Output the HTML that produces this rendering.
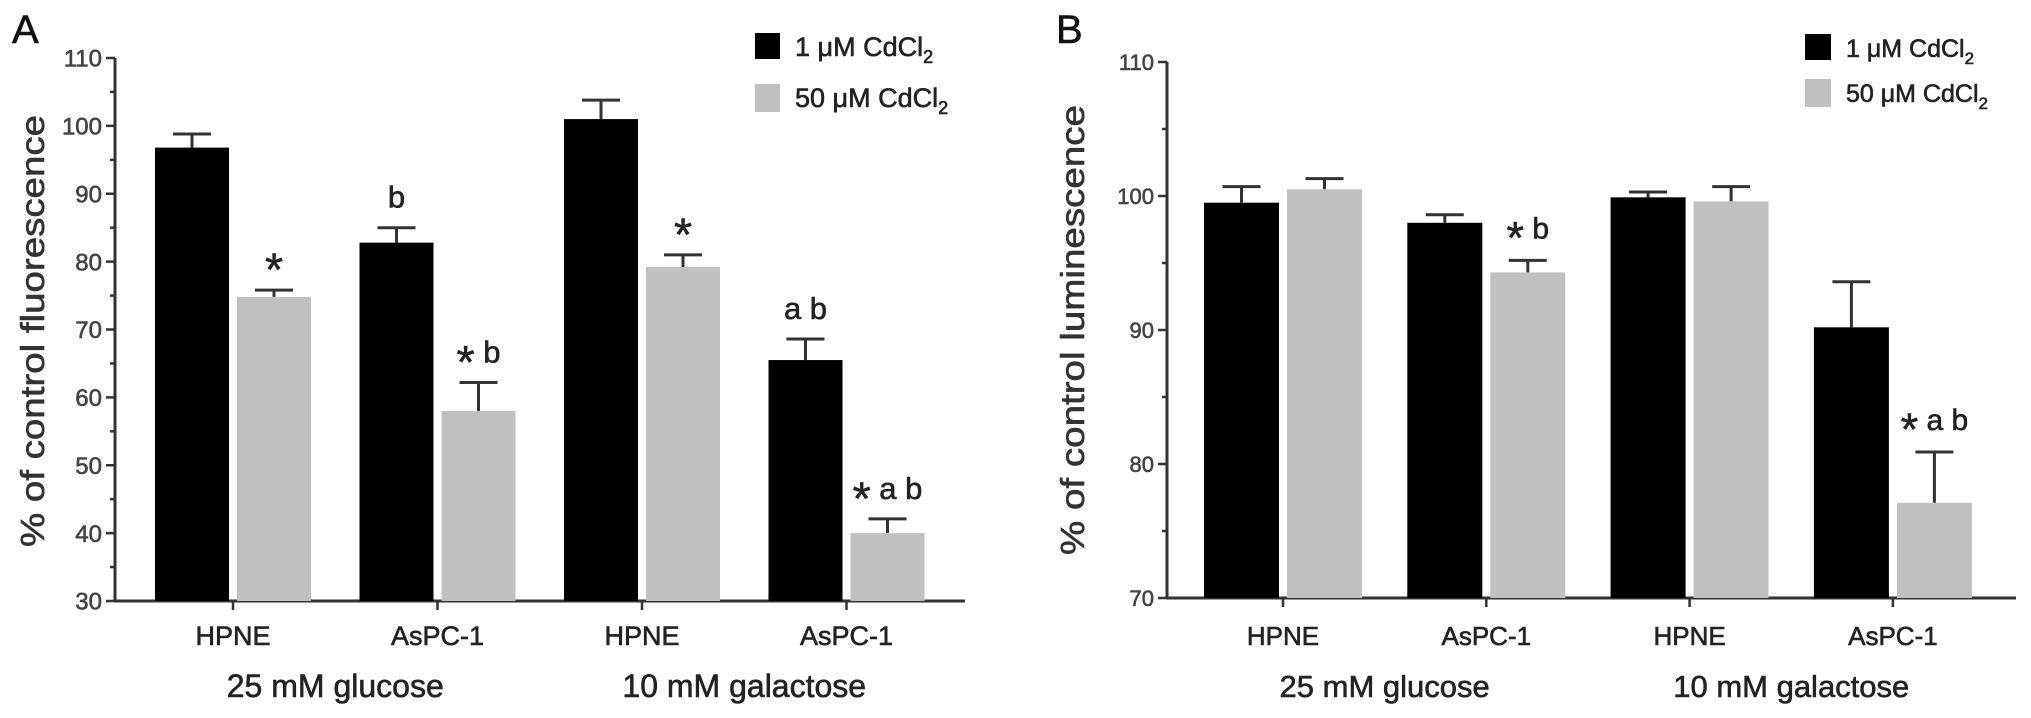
<!DOCTYPE html>
<html><head><meta charset="utf-8"><style>
html,body{margin:0;padding:0;background:#fff;}
svg{display:block;font-family:"Liberation Sans",Arial,sans-serif;}
svg text{stroke:currentColor;stroke-width:0.6px;}
</style></head><body>
<svg id="fig" width="2031" height="718" viewBox="0 0 2031 718">
  <text x="12" y="43" font-size="40" fill="#111" color="#111">A</text>
  <text x="1056" y="43" font-size="40" fill="#111" color="#111">B</text>
  <g id="pa"></g>
  <g id="pb"></g>
  <g>
    <rect x="755" y="33" width="25" height="26" fill="#000"/>
    <text x="795" y="56" font-size="27" fill="#222" color="#222">1 μM CdCl<tspan font-size="18" dy="7">2</tspan></text>
    <rect x="755" y="84" width="25" height="28" fill="#c0c0c0"/>
    <text x="795" y="107" font-size="27" fill="#222" color="#222">50 μM CdCl<tspan font-size="18" dy="7">2</tspan></text>
  </g>
  <g>
    <rect x="1805" y="34" width="26" height="26" fill="#000"/>
    <text x="1846" y="57" font-size="25" fill="#222" color="#222">1 μM CdCl<tspan font-size="17" dy="7">2</tspan></text>
    <rect x="1805" y="79" width="26" height="28" fill="#c0c0c0"/>
    <text x="1846" y="102" font-size="25" fill="#222" color="#222">50 μM CdCl<tspan font-size="17" dy="7">2</tspan></text>
  </g>
</svg>
<script>
// Panel A data
const categoriesA = ["HPNE","AsPC-1","HPNE","AsPC-1"];
const groupsA = ["25 mM glucose","10 mM galactose"];
const blackA = [96.8, 82.8, 101.0, 65.5];
const blackErrA = [98.8, 85.0, 103.8, 68.6];
const grayA = [74.8, 58.0, 79.2, 40.0];
const grayErrA = [75.8, 62.2, 81.0, 42.1];
const blackAnnA = ["", "b", "", "a b"];
const grayAnnA = ["*", "* b", "*", "* a b"];
const ticksA = [30,40,50,60,70,80,90,100,110];
// Panel B data
const categoriesB = ["HPNE","AsPC-1","HPNE","AsPC-1"];
const groupsB = ["25 mM glucose","10 mM galactose"];
const blackB = [99.5, 98.0, 99.9, 90.2];
const blackErrB = [100.7, 98.6, 100.3, 93.6];
const grayB = [100.5, 94.3, 99.6, 77.1];
const grayErrB = [101.3, 95.2, 100.7, 80.9];
const blackAnnB = ["", "", "", ""];
const grayAnnB = ["", "* b", "", "* a b"];
const ticksB = [70,80,90,100,110];

const NS = "http://www.w3.org/2000/svg";
function mk(parent, tag, attrs, text){
  const e = document.createElementNS(NS, tag);
  for (const k in attrs) e.setAttribute(k, attrs[k]);
  if (text !== undefined) e.textContent = text;
  parent.appendChild(e);
  return e;
}
function annot(g, cx, y, label, fs){
  if (!label) return;
  const t = mk(g, "text", {x: cx, y: y, "text-anchor": "middle", "font-size": fs, fill: "#222", color: "#222"});
  
  
  const parts = label.split("*");
  if (parts.length > 1) {
    const s = mk(t, "tspan", {"font-size": fs * 1.5, dy: fs * 0.5}, "*");
    
    
    const r = mk(t, "tspan", {dy: -fs * 0.5}, parts[1]);
    
    
  } else {
    t.textContent = label;
  }
}
function drawPanel(cfg){
  const g = document.getElementById(cfg.id);
  const y = v => cfg.y0 - (v - cfg.vmin) / (cfg.vmax - cfg.vmin) * (cfg.y0 - cfg.y1);
  const xc = i => cfg.x0 + i * cfg.step;
  const ax = mk(g, "line", {x1: cfg.ax, y1: y(cfg.vmax), x2: cfg.ax, y2: cfg.y0 + 1, stroke: "#333", "stroke-width": 3});
  
  
  cfg.ticks.forEach((v, i) => {
    const tk = mk(g, "line", {x1: cfg.ax - 9, y1: y(v), x2: cfg.ax, y2: y(v), stroke: "#333", "stroke-width": 2.5});
    
    
    const lb = mk(g, "text", {x: cfg.ax - 13, y: y(v) + cfg.tfs * 0.36, "text-anchor": "end", "font-size": cfg.tfs, fill: "#444", color: "#444"}, String(v));
    
    
    if (i < cfg.ticks.length - 1) {
      const mv = (v + cfg.ticks[i + 1]) / 2;
      const mt = mk(g, "line", {x1: cfg.ax - 5, y1: y(mv), x2: cfg.ax, y2: y(mv), stroke: "#333", "stroke-width": 2.5});
      
      
    }
  });
  const xa = mk(g, "line", {x1: cfg.ax - 1, y1: cfg.y0, x2: cfg.xend, y2: cfg.y0, stroke: "#333", "stroke-width": 3});
  
  
  const yt = mk(g, "text", {transform: `translate(${cfg.titleX},${cfg.titleY}) rotate(-90)`, "text-anchor": "middle", "font-size": cfg.titleFs, fill: "#333", color: "#333", textLength: cfg.titleLen, lengthAdjust: "spacingAndGlyphs"}, cfg.title);
  
  
  cfg.cats.forEach((c, i) => {
    const cx = xc(i);
    const bars = [[cfg.black[i], cfg.blackErr[i], "#000", cx - cfg.gap / 2 - cfg.bw, cfg.blackAnn[i], 'bar-1um'],
                  [cfg.gray[i], cfg.grayErr[i], "#c0c0c0", cx + cfg.gap / 2, cfg.grayAnn[i], 'bar-50um']];
    bars.forEach(b => {
      const bx = b[3], mid = bx + cfg.bw / 2;
      const ey = y(b[1]);
      const el = mk(g, "line", {x1: mid, y1: y(b[0]), x2: mid, y2: ey, stroke: "#333", "stroke-width": 3});
      
      
      const ec = mk(g, "line", {x1: mid - 19, y1: ey, x2: mid + 19, y2: ey, stroke: "#333", "stroke-width": 3});
      
      
      const r = mk(g, "rect", {x: bx, y: y(b[0]), width: cfg.bw, height: cfg.y0 - y(b[0]), fill: b[2]});
      
      
      annot(g, mid, ey - cfg.annOff, b[4], cfg.annFs);
    });
    const tk = mk(g, "line", {x1: cx, y1: cfg.y0, x2: cx, y2: cfg.y0 + 9, stroke: "#333", "stroke-width": 2.5});
    
    
    const cl = mk(g, "text", {x: cx, y: cfg.catY, "text-anchor": "middle", "font-size": cfg.catFs, fill: "#222", color: "#222"}, c);
    
    
  });
  cfg.groups.forEach((gname, j) => {
    const gx = (xc(2 * j) + xc(2 * j + 1)) / 2;
    const gl = mk(g, "text", {x: gx, y: cfg.grpY, "text-anchor": "middle", "font-size": cfg.grpFs, fill: "#222", color: "#222"}, gname);
    
    
  });
}
drawPanel({id: "pa", ax: 115, y0: 601, y1: 58, vmin: 30, vmax: 110, ticks: ticksA, tfs: 24,
  x0: 233, step: 204.5, bw: 74, gap: 8, xend: 965,
  cats: categoriesA, groups: groupsA, black: blackA, blackErr: blackErrA, gray: grayA, grayErr: grayErrA,
  blackAnn: blackAnnA, grayAnn: grayAnnA, annOff: 20, annFs: 31,
  title: "% of control fluorescence", titleX: 44, titleY: 331, titleFs: 33, titleLen: 432,
  catY: 645, catFs: 27, grpY: 697, grpFs: 32});
drawPanel({id: "pb", ax: 1167, y0: 598, y1: 62, vmin: 70, vmax: 110, ticks: ticksB, tfs: 22,
  x0: 1283, step: 203.3, bw: 75, gap: 8, xend: 2016,
  cats: categoriesB, groups: groupsB, black: blackB, blackErr: blackErrB, gray: grayB, grayErr: grayErrB,
  blackAnn: blackAnnB, grayAnn: grayAnnB, annOff: 22, annFs: 30,
  title: "% of control luminescence", titleX: 1084, titleY: 330, titleFs: 33, titleLen: 450,
  catY: 645, catFs: 26, grpY: 697, grpFs: 31});
</script>
</body></html>
